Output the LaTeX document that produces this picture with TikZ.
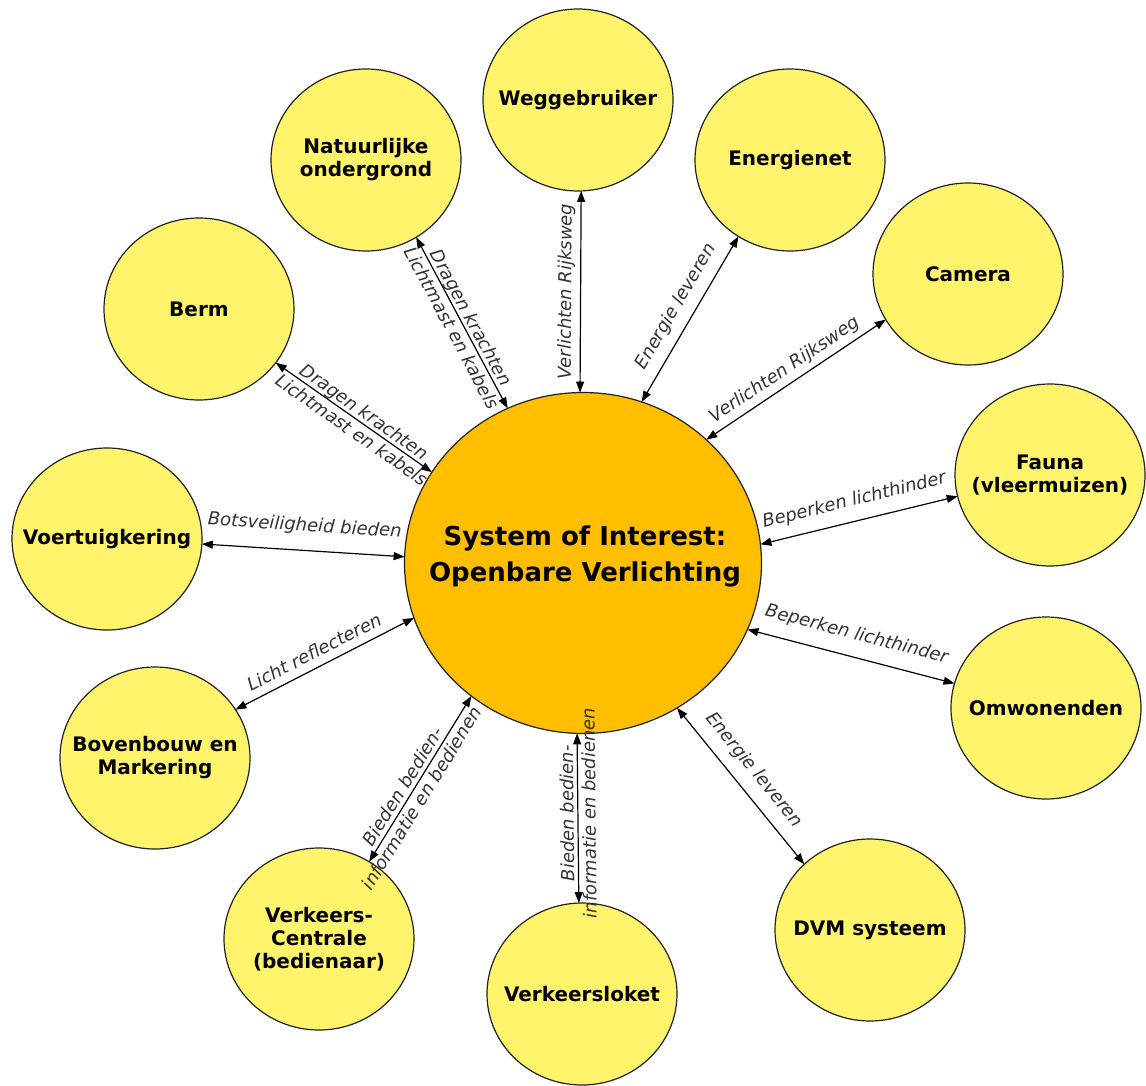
\documentclass[tikz,border=0pt]{standalone}
\usepackage{fontspec}
\newfontfamily\dv{DejaVu Sans}[BoldFont={DejaVu Sans Bold},ItalicFont={DejaVu Sans Oblique}]
\usetikzlibrary{shapes.geometric,arrows.meta}
\definecolor{yel}{HTML}{FFF46C}
\definecolor{org}{HTML}{FFBE00}
\definecolor{rim}{HTML}{222222}
\definecolor{lbl}{HTML}{333333}
\begin{document}
\begin{tikzpicture}[x=1pt,y=1pt,
  outer/.style={ellipse, draw=rim, line width=1.2pt, fill=yel, minimum width=190pt, minimum height=182pt, inner sep=0pt, outer sep=0pt},
  core/.style={ellipse, draw=rim, line width=1.2pt, fill=org, minimum width=357pt, minimum height=341pt, inner sep=0pt, outer sep=0pt},
  ntext/.style={font=\dv\bfseries\fontsize{20}{23}\selectfont, align=center, text=black},
  ctext/.style={font=\dv\bfseries\fontsize{26}{36}\selectfont, align=center, text=black},
  conn/.style={draw=black, line width=1.2pt, {Triangle[length=11pt,width=8pt]}-{Triangle[length=11pt,width=8pt]}},
  elab/.style={font=\dv\itshape\fontsize{18}{22}\selectfont, text=lbl, sloped, inner sep=1pt, align=center},
]
\useasboundingbox (0,0) rectangle (1146,-1086);
\fill[white] (0,0) rectangle (1146,-1086);

% circles
\node[core]  (C)    at (583,-563) {};
\node[outer] (weg)  at (578,-100) {};
\node[outer] (nat)  at (366,-160) {};
\node[outer] (berm) at (199,-309) {};
\node[outer] (voer) at (107,-539) {};
\node[outer] (bov)  at (155,-758) {};
\node[outer] (vc)   at (319,-939) {};
\node[outer] (vl)   at (582,-994) {};
\node[outer] (dvm)  at (870,-930) {};
\node[outer] (omw)  at (1046,-708) {};
\node[outer] (fau)  at (1050,-475) {};
\node[outer] (cam)  at (968,-274) {};
\node[outer] (ene)  at (790,-160) {};

% texts
\node[ctext] (C-t)    at (585,-556) {System of Interest:\\Openbare Verlichting};
\node[ntext] (weg-t)  at (weg)  {Weggebruiker};
\node[ntext] (nat-t)  at (nat)  {Natuurlijke\\ondergrond};
\node[ntext] (berm-t) at (berm) {Berm};
\node[ntext] (voer-t) at (voer) {Voertuigkering};
\node[ntext] (bov-t)  at (bov)  {Bovenbouw en\\Markering};
\node[ntext] (vc-t)   at (vc)   {Verkeers-\\Centrale\\(bedienaar)};
\node[ntext] (vl-t)   at (vl)   {Verkeersloket};
\node[ntext] (dvm-t)  at (dvm)  {DVM systeem};
\node[ntext] (omw-t)  at (omw)  {Omwonenden};
\node[ntext] (fau-t)  at (fau)  {Fauna\\(vleermuizen)};
\node[ntext] (cam-t)  at (cam)  {Camera};
\node[ntext] (ene-t)  at (ene)  {Energienet};

% connectors
\draw[conn] (C.91) -- node[elab, allow upside down, above=4pt] {Verlichten Rijksweg} (weg.-88.7);
\draw[conn] (nat.-57.8) -- node[elab] {Dragen krachten\\Lichtmast en kabels} (C.116.6);
\draw[conn] (berm.-35.2) -- node[elab, pos=0.53] {Dragen krachten\\Lichtmast en kabels} (C.149.4);
\draw[conn] (voer.-3.5) -- node[elab, above=14pt] {Botsveiligheid bieden} (C.178.4);
\draw[conn] (bov.31.9) -- node[elab, pos=0.48, above=7pt] {Licht reflecteren} (C.198.8);
\draw[conn] (vc.57.3) -- node[elab, pos=0.42] {Bieden bedien-\\informatie en bedienen} (C.230.5);
\draw[conn] (vl.92) -- node[elab, allow upside down, pos=0.53] {Bieden bedien-\\informatie en bedienen} (C.268.5);
\draw[conn] (C.303.2) -- node[elab, pos=0.48, above=10pt] {Energie leveren} (dvm.135.9);
\draw[conn] (C.338.4) -- node[elab, above=12pt] {Beperken lichthinder} (omw.165);
\draw[conn] (C.6.7) -- node[elab, above=10pt] {Beperken lichthinder} (fau.193.1);
\draw[conn] (C.45) -- node[elab, pos=0.48, above=4pt] {Verlichten Rijksweg} (cam.209.2);
\draw[conn] (C.70.8) -- node[elab, pos=0.52, above=8pt] {Energie leveren} (ene.236.8);
\end{tikzpicture}
\end{document}
